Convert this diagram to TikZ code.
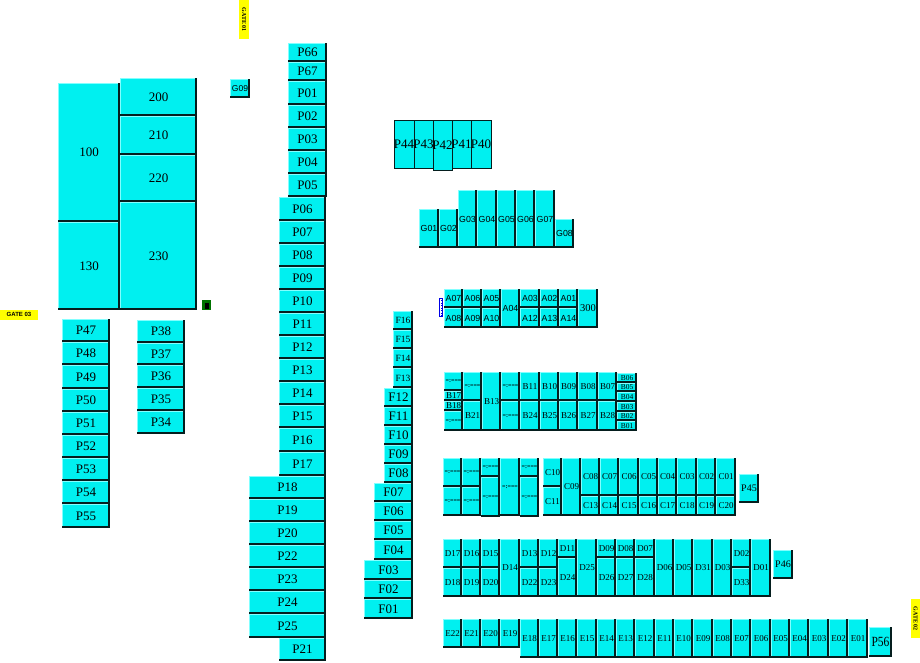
\documentclass[tikz,border=0pt]{standalone}
\usepackage{fontspec}
\setmainfont{Liberation Serif}
\newfontfamily\labelsans{Liberation Sans}
\definecolor{bay}{RGB}{0,240,240}
\definecolor{bayhi}{RGB}{130,255,255}
\definecolor{baylo}{RGB}{5,30,30}
\definecolor{gateyellow}{RGB}{255,255,0}
\tikzset{
  cellbox/.style={fill=bay,draw=none,inner sep=0pt,outer sep=0pt,text=black,align=center},
  darkedge/.style={draw=baylo,line width=2pt},
  lightedge/.style={draw=bayhi,line width=.8pt},
  framedbox/.style={fill=bay,draw=baylo,line width=.9pt,inner sep=0pt,outer sep=0pt,text=black},
  gatebox/.style={fill=gateyellow,draw=none,inner sep=0pt,outer sep=0pt,text=black},
}
% \cell[size]{node name}{x0}{y0}{x1}{y1}{text}
\newcommand\cellraw[7]{%
  \pgfmathsetmacro\cw{#5-#3}\pgfmathsetmacro\ch{#6-#4}%
  \pgfmathsetmacro\cx{(#5+#3)/2}\pgfmathsetmacro\cy{(#6+#4)/2}%
  \node[cellbox,minimum width=\cw pt,minimum height=\ch pt,font=\fontsize{#1}{#1}\selectfont] (#2) at (\cx,\cy) {\makebox[0pt][c]{#7}};
  \draw[lightedge] ([xshift=.4pt,yshift=1pt]#2.south west) -- ([xshift=.4pt,yshift=-.4pt]#2.north west) -- ([xshift=-1pt,yshift=-.4pt]#2.north east);
  \draw[darkedge] ([xshift=-1pt]#2.north east) -- ([xshift=-1pt,yshift=1pt]#2.south east) -- ([yshift=1pt]#2.south west);
}
\newcommand\cell[6][13]{\cellraw{#1}{#2}{#3}{#4}{#5}{#6}{#2}}
\newcommand\scell[5]{\cellraw{8.8}{#1}{#2}{#3}{#4}{#5}{\labelsans #1}}
\newcommand\bcell[5]{\cellraw{9}{#1}{#2}{#3}{#4}{#5}{#1}}
\newcommand\mini[5]{\cellraw{6}{#1}{#2}{#3}{#4}{#5}{\bfseries =:===}}
\newcommand\framed[5]{%
  \pgfmathsetmacro\cw{#4-#2}\pgfmathsetmacro\ch{#5-#3}%
  \pgfmathsetmacro\cx{(#4+#2)/2}\pgfmathsetmacro\cy{(#5+#3)/2}%
  \node[framedbox,minimum width=\cw pt,minimum height=\ch pt,font=\fontsize{13}{13}\selectfont] (#1) at (\cx,\cy) {\makebox[0pt][c]{#1}};
}
\begin{document}
\begin{tikzpicture}[x=1pt,y=-1pt]
\useasboundingbox (0,0) rectangle (920,662);
% large blocks
\cell{100}{58}{83}{120}{222}
\cell{130}{58}{222}{120}{310}
\cell{200}{120}{78}{197}{116}
\cell{210}{120}{116}{197}{155}
\cell{220}{120}{155}{197}{202}
\cell{230}{120}{202}{197}{310}
\cellraw{8.5}{G09}{230}{79}{250}{98}{\labelsans G09}
% P column
\cell{P66}{288}{43}{327}{62}
\cell{P67}{288}{62}{327}{81}
\cell{P01}{288}{81}{327}{105}
\cell{P02}{288}{105}{327}{128}
\cell{P03}{288}{128}{327}{151}
\cell{P04}{288}{151}{327}{174}
\cell{P05}{288}{174}{327}{197}
\cell{P06}{279}{197}{326}{221}
\cell{P07}{279}{221}{326}{244}
\cell{P08}{279}{244}{326}{267}
\cell{P09}{279}{267}{326}{290}
\cell{P10}{279}{290}{326}{313}
\cell{P11}{279}{313}{326}{336}
\cell{P12}{279}{336}{326}{359}
\cell{P13}{279}{359}{326}{382}
\cell{P14}{279}{382}{326}{405}
\cell{P15}{279}{405}{326}{428}
\cell{P16}{279}{428}{326}{452}
\cell{P17}{279}{452}{326}{476}
\cell{P18}{249}{476}{326}{499}
\cell{P19}{249}{499}{326}{522}
\cell{P20}{249}{522}{326}{545}
\cell{P22}{249}{545}{326}{568}
\cell{P23}{249}{568}{326}{591}
\cell{P24}{249}{591}{326}{614}
\cell{P25}{249}{614}{326}{638}
\cell{P21}{279}{638}{326}{661}
% left columns
\cell{P47}{62}{319}{110}{342}
\cell{P48}{62}{342}{110}{365}
\cell{P49}{62}{365}{110}{389}
\cell{P50}{62}{389}{110}{412}
\cell{P51}{62}{412}{110}{435}
\cell{P52}{62}{435}{110}{458}
\cell{P53}{62}{458}{110}{481}
\cell{P54}{62}{481}{110}{504}
\cell{P55}{62}{504}{110}{528}
\cell{P38}{137}{320}{185}{343}
\cell{P37}{137}{343}{185}{365}
\cell{P36}{137}{365}{185}{388}
\cell{P35}{137}{388}{185}{411}
\cell{P34}{137}{411}{185}{434}
% F column
\cell[9.5]{F16}{393}{311}{413}{330}
\cell[9.5]{F15}{393}{330}{413}{349}
\cell[9.5]{F14}{393}{349}{413}{368}
\cell[9.5]{F13}{393}{368}{413}{388}
\cell{F12}{384}{388}{413}{407}
\cell{F11}{384}{407}{413}{426}
\cell{F10}{384}{426}{413}{445}
\cell{F09}{384}{445}{413}{464}
\cell{F08}{384}{464}{413}{483}
\cell{F07}{374}{483}{413}{502}
\cell{F06}{374}{502}{413}{521}
\cell{F05}{374}{521}{413}{540}
\cell{F04}{374}{540}{413}{560}
\cell{F03}{364}{560}{413}{580}
\cell{F02}{364}{580}{413}{599}
\cell{F01}{364}{599}{413}{619}
% framed row
\framed{P44}{394}{120}{414}{168}
\framed{P43}{414}{120}{433}{168}
\framed{P41}{452}{120}{471}{168}
\framed{P40}{471}{120}{491}{168}
\framed{P42}{433}{120}{452}{170}
% G row
\scell{G01}{419}{209}{439}{248}
\scell{G02}{439}{209}{458}{248}
\scell{G03}{458}{190}{477}{248}
\scell{G04}{477}{190}{497}{248}
\scell{G05}{497}{190}{516}{248}
\scell{G06}{516}{190}{535}{248}
\scell{G07}{535}{190}{555}{248}
\scell{G08}{555}{219}{574}{248}
% A row
\scell{A07}{444}{289}{463}{308}
\scell{A06}{463}{289}{482}{308}
\scell{A05}{482}{289}{501}{308}
\scell{A04}{501}{289}{520}{328}
\scell{A03}{520}{289}{540}{308}
\scell{A02}{540}{289}{559}{308}
\scell{A01}{559}{289}{578}{308}
\scell{A08}{444}{308}{463}{328}
\scell{A09}{463}{308}{482}{328}
\scell{A10}{482}{308}{501}{328}
\scell{A12}{520}{308}{540}{328}
\scell{A13}{540}{308}{559}{328}
\scell{A14}{559}{308}{578}{328}
\cellraw{10.5}{300}{578}{289}{598}{328}{300}
% B block
\mini{bm1}{444}{372}{463}{391}
\bcell{B17}{444}{391}{463}{401}
\bcell{B18}{444}{401}{463}{411}
\mini{bm2}{444}{411}{463}{431}
\mini{bm3}{463}{372}{482}{401}
\bcell{B21}{463}{401}{482}{431}
\bcell{B13}{482}{372}{501}{431}
\mini{bm4}{501}{372}{520}{401}
\mini{bm5}{501}{401}{520}{431}
\bcell{B11}{520}{372}{540}{401}
\bcell{B10}{540}{372}{559}{401}
\bcell{B09}{559}{372}{578}{401}
\bcell{B08}{578}{372}{598}{401}
\bcell{B07}{598}{372}{617}{401}
\bcell{B24}{520}{401}{540}{431}
\bcell{B25}{540}{401}{559}{431}
\bcell{B26}{559}{401}{578}{431}
\bcell{B27}{578}{401}{598}{431}
\bcell{B28}{598}{401}{617}{431}
\cellraw{7.5}{B06}{617}{373}{637}{383}{B06}
\cellraw{7.5}{B05}{617}{383}{637}{392}{B05}
\cellraw{7.5}{B04}{617}{392}{637}{402}{B04}
\cellraw{7.5}{B03}{617}{402}{637}{412}{B03}
\cellraw{7.5}{B02}{617}{412}{637}{421}{B02}
\cellraw{7.5}{B01}{617}{421}{637}{431}{B01}
% C block
\mini{cm1}{443}{458}{462}{487}
\mini{cm2}{443}{487}{462}{516}
\mini{cm3}{462}{458}{481}{487}
\mini{cm4}{462}{487}{481}{516}
\mini{cm5}{481}{458}{500}{477}
\mini{cm6}{481}{477}{500}{517}
\mini{cm7}{500}{458}{520}{516}
\mini{cm8}{520}{458}{539}{477}
\mini{cm9}{520}{477}{539}{517}
\bcell{C10}{543}{458}{562}{487}
\bcell{C11}{543}{487}{562}{516}
\bcell{C09}{562}{458}{581}{516}
\bcell{C08}{581}{458}{600}{496}
\bcell{C07}{600}{458}{619}{496}
\bcell{C06}{619}{458}{639}{496}
\bcell{C05}{639}{458}{658}{496}
\bcell{C04}{658}{458}{677}{496}
\bcell{C03}{677}{458}{697}{496}
\bcell{C02}{697}{458}{716}{496}
\bcell{C01}{716}{458}{736}{496}
\bcell{C13}{581}{496}{600}{516}
\bcell{C14}{600}{496}{619}{516}
\bcell{C15}{619}{496}{639}{516}
\bcell{C16}{639}{496}{658}{516}
\bcell{C17}{658}{496}{677}{516}
\bcell{C18}{677}{496}{697}{516}
\bcell{C19}{697}{496}{716}{516}
\bcell{C20}{716}{496}{736}{516}
\cell[10]{P45}{739}{474}{759}{503}
% D block
\bcell{D17}{443}{539}{462}{568}
\bcell{D18}{443}{568}{462}{597}
\bcell{D16}{462}{539}{481}{568}
\bcell{D19}{462}{568}{481}{597}
\bcell{D15}{481}{539}{500}{568}
\bcell{D20}{481}{568}{500}{597}
\bcell{D14}{500}{539}{520}{597}
\bcell{D13}{520}{539}{539}{568}
\bcell{D22}{520}{568}{539}{597}
\bcell{D12}{539}{539}{558}{568}
\bcell{D23}{539}{568}{558}{597}
\bcell{D11}{558}{539}{577}{558}
\bcell{D24}{558}{558}{577}{597}
\bcell{D25}{577}{539}{597}{597}
\bcell{D09}{597}{539}{616}{558}
\bcell{D26}{597}{558}{616}{597}
\bcell{D08}{616}{539}{635}{558}
\bcell{D27}{616}{558}{635}{597}
\bcell{D07}{635}{539}{655}{558}
\bcell{D28}{635}{558}{655}{597}
\bcell{D06}{655}{539}{674}{597}
\bcell{D05}{674}{539}{693}{597}
\bcell{D31}{693}{539}{713}{597}
\bcell{D03}{713}{539}{732}{597}
\bcell{D02}{732}{539}{751}{568}
\bcell{D33}{732}{568}{751}{597}
\bcell{D01}{751}{539}{771}{597}
\cell[10]{P46}{773}{550}{793}{579}
% E row
\bcell{E22}{443}{619}{462}{648}
\bcell{E21}{462}{619}{481}{648}
\bcell{E20}{481}{619}{500}{648}
\bcell{E19}{500}{619}{520}{648}
\bcell{E18}{520}{619}{539}{658}
\bcell{E17}{539}{619}{558}{658}
\bcell{E16}{558}{619}{577}{658}
\bcell{E15}{577}{619}{597}{658}
\bcell{E14}{597}{619}{616}{658}
\bcell{E13}{616}{619}{635}{658}
\bcell{E12}{635}{619}{655}{658}
\bcell{E11}{655}{619}{674}{658}
\bcell{E10}{674}{619}{693}{658}
\bcell{E09}{693}{619}{713}{658}
\bcell{E08}{713}{619}{732}{658}
\bcell{E07}{732}{619}{751}{658}
\bcell{E06}{751}{619}{771}{658}
\bcell{E05}{771}{619}{790}{658}
\bcell{E04}{790}{619}{809}{658}
\bcell{E03}{809}{619}{829}{658}
\bcell{E02}{829}{619}{848}{658}
\bcell{E01}{848}{619}{868}{658}
\cellraw{14}{P56}{869}{627}{892}{657}{\scalebox{.82}[1]{P56}}
% gates
\node[gatebox,minimum width=38pt,minimum height=10pt,font=\labelsans\bfseries\fontsize{6}{6}\selectfont] (gate3) at (19,314.5) {GATE 03};
\node[gatebox,minimum width=39pt,minimum height=10pt,rotate=-90,font=\bfseries\fontsize{6}{6}\selectfont] (gate1) at (244,19.5) {GATE 01};
\node[gatebox,minimum width=39pt,minimum height=9pt,rotate=-90,font=\bfseries\fontsize{6}{6}\selectfont] (gate2) at (915.5,618.5) {GATE 02};
% markers
\node[fill=green!45!black,inner sep=0pt,minimum width=9pt,minimum height=10pt] (greenmark) at (206.5,305) {};
\fill[black] ([xshift=-2pt,yshift=-3.5pt]greenmark.center) rectangle ([xshift=2pt,yshift=2.5pt]greenmark.center);
\node[fill=white,draw=blue!90!black,line width=1pt,inner sep=0pt,minimum width=3.5pt,minimum height=18.5pt] (bluemark) at (441,307.5) {};
\draw[blue!90!black,line width=.8pt,dash pattern=on 1pt off 1.5pt] (bluemark.north) -- (bluemark.south);
\end{tikzpicture}
\end{document}
